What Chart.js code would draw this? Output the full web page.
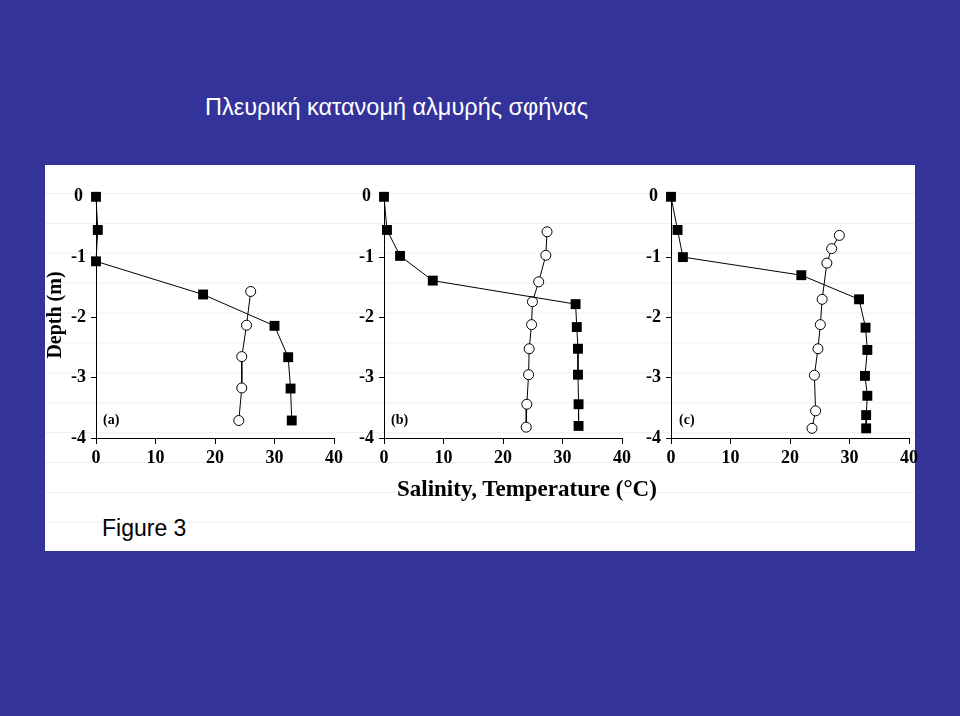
<!DOCTYPE html>
<html>
<head>
<meta charset="utf-8">
<script src="https://cdn.jsdelivr.net/npm/chart.js@4.4.1/dist/chart.umd.min.js"></script>
<style>
  html, body { margin: 0; padding: 0; }
  body { width: 960px; height: 716px; background: #333399; position: relative; overflow: hidden; }
  #panel {
    position: absolute; left: 45px; top: 165px; width: 870px; height: 386px;
    background-color: #fff;
    background-image: linear-gradient(#efefef 0, #efefef 1px, transparent 1px);
    background-size: 100% 29.9px;
    background-position: 0 28px;
  }
  canvas { position: absolute; }
  .txt { position: absolute; white-space: nowrap; }
  .serif { font-family: "Liberation Serif", "Times New Roman", serif; font-weight: bold; color: #000; }
</style>
</head>
<body>
<div class="txt" style="left:205px; top:94px; font-family:'Liberation Sans', Arial, sans-serif; font-size:23.5px; color:#fff;">Πλευρική κατανομή αλμυρής σφήνας</div>
<div id="panel"></div>
<canvas id="chartA" width="292" height="289" style="left:56px; top:181px;"></canvas>
<canvas id="chartB" width="292" height="289" style="left:344px; top:181px;"></canvas>
<canvas id="chartC" width="292" height="289" style="left:631px; top:181px;"></canvas>
<div class="txt serif" style="left:44px; top:315px; font-size:20px; transform: translate(-50%, -50%) rotate(-90deg); transform-origin: center; margin-left:10px;">Depth (m)</div>
<div class="txt serif" style="left:103px; top:412px; font-size:14px;">(a)</div>
<div class="txt serif" style="left:391px; top:412px; font-size:14px;">(b)</div>
<div class="txt serif" style="left:679px; top:412px; font-size:14px;">(c)</div>
<div class="txt serif" style="left:397px; top:476px; font-size:23px;">Salinity, Temperature (°C)</div>
<div class="txt" style="left:102px; top:515px; font-family:'Liberation Sans', Arial, sans-serif; font-size:23px; color:#000;">Figure 3</div>

<script>
// panel (a)
const depthSqA = [0, -0.55, -1.07, -1.62, -2.14, -2.66, -3.18, -3.71];
const salinityA = [0, 0.3, 0, 18.0, 30.0, 32.3, 32.7, 32.9];
const depthCiA = [-1.57, -2.13, -2.65, -3.17, -3.71];
const tempA = [26.0, 25.3, 24.5, 24.5, 24.0];

// panel (b)
const depthSqB = [0, -0.55, -0.98, -1.39, -1.78, -2.16, -2.52, -2.95, -3.44, -3.80];
const salinityB = [0, 0.5, 2.7, 8.2, 32.2, 32.4, 32.6, 32.6, 32.7, 32.7];
const depthCiB = [-0.58, -0.97, -1.41, -1.74, -2.12, -2.52, -2.95, -3.44, -3.82];
const tempB = [27.4, 27.2, 26.0, 24.95, 24.8, 24.4, 24.3, 24.0, 23.9];

// panel (c)
const depthSqC = [0, -0.55, -1.0, -1.30, -1.70, -2.17, -2.54, -2.97, -3.30, -3.62, -3.84];
const salinityC = [0, 1.1, 2.0, 21.9, 31.6, 32.7, 33.0, 32.6, 33.0, 32.8, 32.8];
const depthCiC = [-0.64, -0.86, -1.10, -1.70, -2.12, -2.52, -2.96, -3.55, -3.84];
const tempC = [28.3, 27.0, 26.2, 25.4, 25.1, 24.7, 24.1, 24.3, 23.7];

const xTicks = [0, 10, 20, 30, 40];
const yTicks = [0, -1, -2, -3, -4];

const tickFont = { family: "'Liberation Serif', 'Times New Roman', serif", size: 18, weight: 'bold' };

function pts(xs, ys) {
  return xs.map((v, i) => ({ x: v, y: ys[i] }));
}

function drawPanel(id, sqX, sqY, ciX, ciY) {
  const ctx = document.getElementById(id).getContext('2d');
  new Chart(ctx, {
    type: 'scatter',
    data: {
      datasets: [
        {
          data: pts(sqX, sqY),
          showLine: true,
          clip: false,
          borderColor: '#000',
          borderWidth: 1,
          pointStyle: 'rect',
          pointRadius: 7,
          pointBackgroundColor: '#000',
          pointBorderColor: '#000',
          pointBorderWidth: 0,
        },
        {
          data: pts(ciX, ciY),
          showLine: true,
          clip: false,
          borderColor: '#000',
          borderWidth: 1,
          pointStyle: 'circle',
          pointRadius: 5,
          pointBackgroundColor: '#fff',
          pointBorderColor: '#000',
          pointBorderWidth: 1,
        },
      ],
    },
    options: {
      responsive: false,
      animation: false,
      events: [],
      layout: { autoPadding: false, padding: { top: 12, right: 14, bottom: 0, left: 0 } },
      plugins: { legend: { display: false }, tooltip: { enabled: false } },
      scales: {
        x: {
          type: 'linear',
          min: 0, max: 40,
          afterFit: s => { s.height = 32; },
          afterBuildTicks: s => { s.ticks = xTicks.map(v => ({ value: v })); },
          grid: { drawOnChartArea: false, drawTicks: true, tickLength: 6, color: '#000' },
          border: { display: true, color: '#000', width: 1 },
          ticks: { color: '#000', font: tickFont, padding: 4, maxRotation: 0 },
        },
        y: {
          type: 'linear',
          min: -4, max: 0,
          afterFit: s => { s.width = 40; },
          afterBuildTicks: s => { s.ticks = yTicks.map(v => ({ value: v })); },
          grid: { drawOnChartArea: false, drawTicks: true, tickLength: 5, color: '#000' },
          border: { display: true, color: '#000', width: 1 },
          ticks: { color: '#000', font: tickFont, padding: 5, crossAlign: 'center' },
        },
      },
    },
  });
}

drawPanel('chartA', salinityA, depthSqA, tempA, depthCiA);
drawPanel('chartB', salinityB, depthSqB, tempB, depthCiB);
drawPanel('chartC', salinityC, depthSqC, tempC, depthCiC);
</script>
</body>
</html>
